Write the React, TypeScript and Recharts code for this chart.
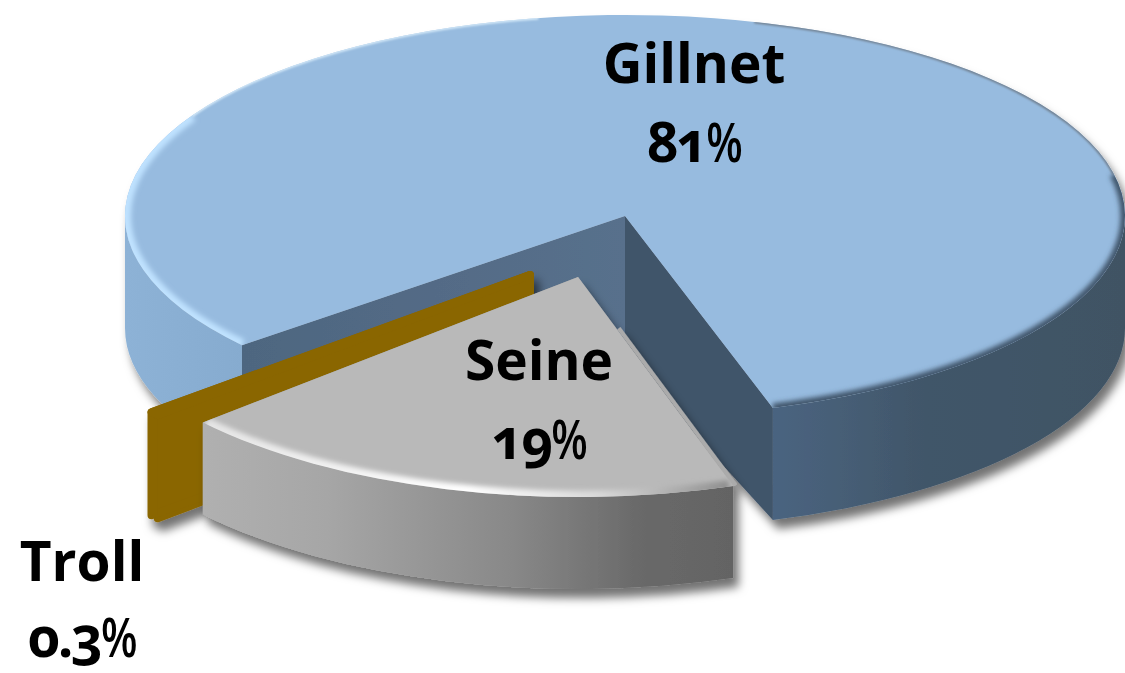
import { Pie, PieChart } from 'recharts'

const categories = ['Gillnet', 'Troll', 'Seine']
const shares = [81, 0.3, 18.7]
const sliceColors = ['#97BBDF', '#8A6600', '#B9B9B9']

const chartData = categories.map((name, i) => ({ name, value: shares[i], fill: sliceColors[i] }))

type Look = {
  dx: number
  dy: number
  ryRatio: number
  depth: number
  cutExtra: number
  startNudge: number
  endNudge: number
  round: number
  wall: string
  cutStart: string
  cutEnd: string
  labelX: number
  labelY: number[]
}

// the source picture has some perspective, so each slice gets its own small corrections
const looks: Record<string, Look> = {
  Gillnet: {
    dx: 0, dy: 0, ryRatio: 0.402, depth: 112, cutExtra: 30, startNudge: 0, endNudge: 1.2, round: 0,
    wall: 'url(#gillnetWall)', cutStart: '#40546A', cutEnd: 'url(#gillnetCut)',
    labelX: 694, labelY: [83, 162],
  },
  Troll: {
    dx: -95, dy: 59, ryRatio: 0.42, depth: 103, cutExtra: 0, startNudge: 2, endNudge: 2, round: 8,
    wall: '#8A6600', cutStart: '#8A6600', cutEnd: '#8A6600',
    labelX: 82, labelY: [581, 657],
  },
  Seine: {
    dx: -47, dy: 61, ryRatio: 0.44, depth: 92, cutExtra: 0, startNudge: 1.5, endNudge: 0.9, round: 0,
    wall: 'url(#seineWall)', cutStart: '#9C9C9C', cutEnd: '#A8A8A8',
    labelX: 539, labelY: [380, 459],
  },
}

const pointAt = (cx: number, cy: number, rx: number, ry: number, deg: number) => {
  const a = (deg * Math.PI) / 180
  return { x: cx + rx * Math.cos(a), y: cy - ry * Math.sin(a) }
}

// parts of [start, end] that sit on the front half of the ellipse
const frontRanges = (start: number, end: number) => {
  const out: [number, number][] = []
  for (let k = -1; k <= 1; k++) {
    const a = Math.max(start, 180 + 360 * k)
    const b = Math.min(end, 360 + 360 * k)
    if (b > a) out.push([a, b])
  }
  return out
}

const arcTo = (rx: number, ry: number, from: number, to: number, p: { x: number; y: number }) =>
  `A ${rx} ${ry} 0 ${Math.abs(to - from) > 180 ? 1 : 0} ${to > from ? 0 : 1} ${p.x} ${p.y}`

function Slice(props: any) {
  const name: string = props.payload?.name ?? props.name
  const look = looks[name]
  const cx = props.cx + look.dx
  const cy = props.cy + look.dy
  const rx = props.outerRadius
  const ry = rx * look.ryRatio
  const start = props.startAngle + look.startNudge
  const end = props.endAngle + look.endNudge
  const d = look.depth
  const at = (deg: number) => pointAt(cx, cy, rx, ry, deg)
  const a = at(start)
  const b = at(end)
  const top = `M ${cx} ${cy} L ${a.x} ${a.y} ${arcTo(rx, ry, start, end, b)} Z`
  const wallPath = ([f, t]: [number, number]) => {
    const p = at(f)
    const q = at(t)
    return `M ${p.x} ${p.y} ${arcTo(rx, ry, f, t, q)} L ${q.x} ${q.y + d} ${arcTo(rx, ry, t, f, { x: p.x, y: p.y + d })} Z`
  }
  const cut = (p: { x: number; y: number }) =>
    `M ${cx} ${cy} L ${p.x} ${p.y} L ${p.x} ${p.y + d} L ${cx} ${cy + d + look.cutExtra} Z`
  const rim = (f: number, t: number) => {
    const p = at(f)
    return `M ${p.x} ${p.y} ${arcTo(rx, ry, f, t, at(t))}`
  }
  const clipId = `top-${name}`
  const walls = frontRanges(start, end)

  return (
    <g>
      <g filter="url(#dropShade)">
        <path d={cut(b)} fill={look.cutEnd} stroke={look.cutEnd} strokeWidth={look.round} strokeLinejoin="round" />
        <path d={cut(a)} fill={look.cutStart} stroke={look.cutStart} strokeWidth={look.round} strokeLinejoin="round" />
        {walls.map((r) => (
          <path key={r[0]} d={wallPath(r)} fill={look.wall} />
        ))}
        {name === 'Seine' && (
          <path
            d={`M ${cx + (b.x - cx) * 0.25 + 2} ${cy + (b.y - cy) * 0.25 - 1} L ${b.x + 2} ${b.y - 1}`}
            stroke="#ABABAB"
            strokeWidth={4}
          />
        )}
        <path d={top} fill={props.fill} stroke={props.fill} strokeWidth={look.round} strokeLinejoin="round" />
      </g>
      <clipPath id={clipId}>
        <path d={top} />
      </clipPath>
      {name === 'Gillnet' && (
        <g clipPath={`url(#${clipId})`} fill="none">
          <path d={rim(150, end)} stroke="#BFE2FF" strokeWidth={12} filter="url(#soften)" />
          <path d={rim(start, 12)} stroke="#40546A" strokeWidth={9} filter="url(#soften)" />
          <path d={rim(12, 75)} stroke="#6E7C8A" strokeWidth={3} filter="url(#softer)" />
          <path d={rim(100, 150)} stroke="#D8ECFA" strokeWidth={3} filter="url(#softer)" />
        </g>
      )}
      {name === 'Seine' && (
        <g clipPath={`url(#${clipId})`} fill="none">
          <path d={rim(start + 0.5, end - 0.5)} stroke="url(#seineRim)" strokeWidth={13} filter="url(#soften)" />
        </g>
      )}
    </g>
  )
}

function SliceLabel(props: any) {
  const name: string = props.payload?.name ?? props.name
  const look = looks[name]
  const digits = props.value < 1 ? `${props.value}` : `${Math.round(props.value)}`
  const textStyle = {
    fontFamily: '"Open Sans", sans-serif',
    fontWeight: 700,
    fontSize: 55,
    fontFeatureSettings: '"onum"',
    fill: '#000',
  }
  return (
    <g>
      <text x={look.labelX} y={look.labelY[0]} textAnchor="middle" style={textStyle}>{name}</text>
      <text x={look.labelX} y={look.labelY[1]} textAnchor="middle" letterSpacing={-2} style={textStyle}>
        {digits}
        <tspan textLength={35} lengthAdjust="spacingAndGlyphs" fontWeight={600}>%</tspan>
      </text>
    </g>
  )
}

export default function App() {
  return (
    <div style={{ position: 'absolute', left: 0, top: 0, width: 1125, height: 673, background: '#fff', overflow: 'hidden' }}>
      <PieChart width={1125} height={673} margin={{ top: 0, right: 0, bottom: 0, left: 0 }}>
        <defs>
          <linearGradient id="gillnetWall" gradientUnits="userSpaceOnUse" x1="125" y1="0" x2="1125" y2="0">
            <stop offset="0" stopColor="#8DB2D6" />
            <stop offset="0.12" stopColor="#86ABCF" />
            <stop offset="0.65" stopColor="#4A6480" />
            <stop offset="0.8" stopColor="#415669" />
            <stop offset="1" stopColor="#3F5364" />
          </linearGradient>
          <linearGradient id="gillnetCut" gradientUnits="userSpaceOnUse" x1="243" y1="0" x2="625" y2="0">
            <stop offset="0" stopColor="#4E6680" />
            <stop offset="1" stopColor="#58708C" />
          </linearGradient>
          <linearGradient id="seineWall" gradientUnits="userSpaceOnUse" x1="154" y1="0" x2="733" y2="0">
            <stop offset="0" stopColor="#B4B4B4" />
            <stop offset="0.3" stopColor="#A6A6A6" />
            <stop offset="0.62" stopColor="#888888" />
            <stop offset="0.85" stopColor="#686868" />
            <stop offset="1" stopColor="#646464" />
          </linearGradient>
          <linearGradient id="seineRim" gradientUnits="userSpaceOnUse" x1="203" y1="0" x2="733" y2="0">
            <stop offset="0" stopColor="#E4E4E4" />
            <stop offset="0.5" stopColor="#FFFFFF" />
            <stop offset="0.75" stopColor="#D8D8D8" />
            <stop offset="1" stopColor="#8C8C8C" />
          </linearGradient>
          <filter id="dropShade" x="-10%" y="-10%" width="125%" height="130%">
            <feDropShadow dx="5" dy="9" stdDeviation="5" floodColor="#000" floodOpacity="0.55" />
          </filter>
          <filter id="soften" x="-10%" y="-10%" width="120%" height="120%">
            <feGaussianBlur stdDeviation="2.5" />
          </filter>
          <filter id="softer" x="-10%" y="-10%" width="120%" height="120%">
            <feGaussianBlur stdDeviation="1" />
          </filter>
        </defs>
        <Pie
          data={chartData}
          dataKey="value"
          nameKey="name"
          cx={625}
          cy={216}
          innerRadius={0}
          outerRadius={500}
          startAngle={-72.8}
          endAngle={287.2}
          stroke="none"
          shape={Slice}
          label={SliceLabel}
          labelLine={false}
          isAnimationActive={false}
        />
      </PieChart>
    </div>
  )
}
